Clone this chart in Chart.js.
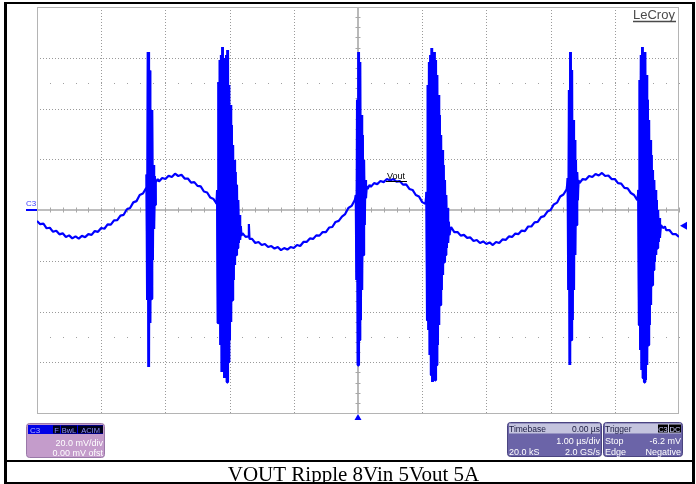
<!DOCTYPE html>
<html>
<head>
<meta charset="utf-8">
<script src="https://cdn.jsdelivr.net/npm/chart.js@4.4.1/dist/chart.umd.min.js"></script>
<style>
  html, body { margin: 0; padding: 0; background: #fff; }
  canvas { display: block; }
</style>
</head>
<body>
<canvas id="scope" width="696" height="484"></canvas>
<script>
// --- LeCroy capture: VOUT ripple 8Vin 5Vout 5A ---
// time in µs (1.00 µs/div), voltage in mV (20.0 mV/div)

const xTicksUs = [-5, -4, -3, -2, -1, 0, 1, 2, 3, 4, 5];
const yTicksMv = [-80, -60, -40, -20, 0, 20, 40, 60, 80];
const dotRowsMv = [50, -50];

// quiet ripple between the switching edges, [t µs, v mV]
const ripple1 = [[-5.00,-4.3],[-4.95,-5.6],[-4.90,-5.4],[-4.85,-7.2],[-4.80,-7.0],[-4.75,-8.6],[-4.70,-8.2],[-4.65,-9.6],[-4.60,-9.2],[-4.55,-10.6],[-4.50,-10.0],[-4.45,-11.2],[-4.40,-10.4],[-4.35,-11.3],[-4.30,-10.2],[-4.25,-10.7],[-4.20,-9.5],[-4.15,-9.8],[-4.10,-8.3],[-4.05,-8.6],[-4.00,-7.1],[-3.95,-7.4],[-3.90,-5.7],[-3.85,-5.8],[-3.80,-4.1],[-3.75,-4.0],[-3.70,-2.2],[-3.65,-1.9],[-3.60,0.3],[-3.55,0.8],[-3.50,3.0],[-3.45,3.5],[-3.40,5.9],[-3.35,6.5],[-3.30,8.6]];
const ripple2 = [[-3.15,11.0],[-3.12,12.2],[-3.10,11.2],[-3.05,12.6],[-3.00,12.2],[-2.95,13.5],[-2.90,13.0],[-2.85,14.3],[-2.80,13.4],[-2.75,13.9],[-2.70,12.4],[-2.65,12.4],[-2.60,10.8],[-2.55,11.0],[-2.50,9.5],[-2.45,9.3],[-2.40,7.3],[-2.35,6.9],[-2.30,4.9],[-2.25,4.3],[-2.21,2.8]];
const ripple3 = [[-1.80,-9.1],[-1.75,-10.6],[-1.71,-10.4],[-1.70,-5.5],[-1.69,-11.4],[-1.65,-11.4],[-1.60,-13.0],[-1.55,-12.6],[-1.50,-13.8],[-1.45,-13.4],[-1.40,-14.6],[-1.35,-14.2],[-1.30,-15.2],[-1.25,-14.6],[-1.20,-15.8],[-1.15,-15.0],[-1.10,-15.6],[-1.05,-14.6],[-1.00,-15.0],[-0.95,-13.8],[-0.90,-14.2],[-0.85,-12.6],[-0.80,-12.6],[-0.75,-11.2],[-0.70,-11.4],[-0.65,-10.0],[-0.60,-10.1],[-0.55,-8.7],[-0.50,-8.7],[-0.45,-6.9],[-0.40,-6.7],[-0.35,-4.7],[-0.30,-4.3],[-0.25,-2.6],[-0.20,-1.6],[-0.15,0.8],[-0.10,1.6],[-0.05,3.9]];
const ripple4 = [[0.15,8.3],[0.18,9.9],[0.20,9.1],[0.25,10.6],[0.30,10.2],[0.35,11.4],[0.40,11.0],[0.45,12.2],[0.50,11.6],[0.55,12.2],[0.60,11.2],[0.65,11.4],[0.70,10.0],[0.75,10.1],[0.80,8.3],[0.85,7.9],[0.90,5.9],[0.95,5.3],[1.00,3.1],[1.05,2.4]];
const ripple5 = [[1.45,-6.7],[1.50,-8.7],[1.55,-8.7],[1.60,-10.1],[1.65,-9.8],[1.70,-11.0],[1.75,-10.8],[1.80,-12.2],[1.85,-11.8],[1.90,-13.0],[1.95,-12.4],[2.00,-13.4],[2.05,-12.8],[2.10,-13.8],[2.15,-12.6],[2.20,-13.0],[2.25,-11.6],[2.30,-11.8],[2.35,-10.4],[2.40,-10.6],[2.45,-9.3],[2.50,-9.5],[2.55,-8.1],[2.60,-8.3],[2.65,-6.5],[2.70,-6.5],[2.75,-4.9],[2.80,-4.7],[2.85,-2.8],[2.90,-2.4],[2.95,-0.6],[3.00,0.0],[3.05,2.2],[3.10,2.9],[3.15,5.3],[3.20,6.1],[3.25,8.1]];
const ripple6 = [[3.45,10.6],[3.50,12.2],[3.55,12.0],[3.60,13.4],[3.65,13.0],[3.70,14.2],[3.75,13.6],[3.80,14.6],[3.85,13.4],[3.90,13.6],[3.95,12.2],[4.00,12.2],[4.05,10.6],[4.10,10.4],[4.15,8.7],[4.20,8.5],[4.25,6.7],[4.30,5.9],[4.35,3.9]];
const ripple7 = [[4.72,-5.9],[4.75,-7.1],[4.78,-6.5],[4.80,-7.9],[4.85,-7.9],[4.90,-9.5],[4.95,-9.5],[5.00,-10.6]];

// ringing bursts at each switching edge
const burst1 = [[-3.29,14.0],[-3.28,-35.5],[-3.27,62.3],[-3.26,-61.9],[-3.25,55.0],[-3.24,-44.5],[-3.23,39.0],[-3.22,-35.0],[-3.21,39.4],[-3.20,-19.7],[-3.19,17.7],[-3.18,-7.5],[-3.17,13.4],[-3.16,2.0]];
const burst2 = [[-2.20,2.4],[-2.19,7.9],[-2.18,-44.5],[-2.17,50.4],[-2.16,-37.4],[-2.15,59.1],[-2.14,-53.2],[-2.13,61.1],[-2.12,-63.8],[-2.11,64.2],[-2.10,-59.1],[-2.09,59.9],[-2.08,-66.2],[-2.07,58.3],[-2.06,-63.1],[-2.05,61.1],[-2.04,-67.8],[-2.03,63.1],[-2.02,-59.9],[-2.01,49.3],[-2.00,-51.2],[-1.99,41.4],[-1.98,-44.1],[-1.97,33.5],[-1.96,-35.5],[-1.95,25.6],[-1.94,-27.6],[-1.93,19.7],[-1.92,-21.7],[-1.91,15.0],[-1.90,-17.7],[-1.89,9.9],[-1.88,-15.0],[-1.87,3.9],[-1.86,-13.0],[-1.85,-2.0],[-1.84,-11.8],[-1.83,-6.3],[-1.82,-10.2]];
const burst3 = [[-0.03,5.9],[-0.02,-27.6],[-0.01,43.4],[0.00,-61.1],[0.01,62.3],[0.02,-51.2],[0.03,58.3],[0.04,-43.4],[0.05,37.4],[0.06,-31.5],[0.07,29.6],[0.08,-17.7],[0.09,19.7],[0.10,-5.9],[0.11,11.8],[0.12,4.7],[0.13,9.5]];
const burst4 = [[1.07,7.1],[1.08,-43.4],[1.09,49.3],[1.10,-47.3],[1.11,58.3],[1.12,-57.1],[1.13,61.1],[1.14,-65.0],[1.15,63.8],[1.16,-67.8],[1.17,59.9],[1.18,-65.0],[1.19,62.3],[1.20,-67.0],[1.21,59.1],[1.22,-61.1],[1.23,53.2],[1.24,-53.2],[1.25,45.3],[1.26,-45.3],[1.27,37.4],[1.28,-37.4],[1.29,29.6],[1.30,-31.5],[1.31,23.6],[1.32,-25.6],[1.33,17.7],[1.34,-20.5],[1.35,11.8],[1.36,-17.7],[1.37,5.9],[1.38,-15.0],[1.39,0.8],[1.40,-13.0],[1.41,-4.7],[1.42,-9.9]];
const burst5 = [[3.27,12.6],[3.28,-31.5],[3.29,47.3],[3.30,-61.1],[3.31,62.3],[3.32,-51.2],[3.33,55.2],[3.34,-43.4],[3.35,35.5],[3.36,-31.5],[3.37,27.6],[3.38,-17.7],[3.39,19.7],[3.40,-5.9],[3.41,15.0],[3.42,3.9],[3.43,11.8]];
const burst6 = [[4.37,7.9],[4.38,-45.3],[4.39,51.2],[4.40,-55.2],[4.41,61.1],[4.42,-63.1],[4.43,64.2],[4.44,-66.2],[4.45,59.1],[4.46,-67.8],[4.47,62.3],[4.48,-67.0],[4.49,53.2],[4.50,-61.1],[4.51,43.4],[4.52,-53.2],[4.53,35.5],[4.54,-45.3],[4.55,27.6],[4.56,-37.4],[4.57,21.7],[4.58,-29.6],[4.59,15.8],[4.60,-23.6],[4.61,11.8],[4.62,-20.5],[4.63,7.9],[4.64,-17.7],[4.65,3.9],[4.66,-15.0],[4.67,0.0],[4.68,-12.6],[4.69,-3.2],[4.70,-11.0]];

const trace = [ripple1, burst1, ripple2, burst2, ripple3, burst3, ripple4,
               burst4, ripple5, burst5, ripple6, burst6, ripple7]
  .flat().map(([t, v]) => ({ x: t, y: v }));
// the bursts again, on their own, heavier so the ringing reads as a solid smear
const bursts = [burst1, burst2, burst3, burst4, burst5, burst6]
  .flatMap(b => [...b.map(([t, v]) => ({ x: t, y: v })), { x: b[b.length - 1][0] + 0.001, y: null }]);

const BLUE = "#0000ff";
const SANS = "'Liberation Sans', Arial, sans-serif";

function box(c, x, y, w, h, fill, stroke) {
  c.beginPath();
  c.roundRect(x, y, w, h, 3);
  c.fillStyle = fill;
  c.fill();
  if (stroke) { c.strokeStyle = stroke; c.lineWidth = 1; c.stroke(); }
}
function txt(c, s, x, y, align, color, font) {
  c.font = font;
  c.fillStyle = color;
  c.textAlign = align;
  c.textBaseline = "alphabetic";
  c.fillText(s, x, y);
}
function seg(c, x1, y1, x2, y2) {
  c.beginPath(); c.moveTo(x1, y1); c.lineTo(x2, y2); c.stroke();
}

// scope graticule + screen annotations
const scopeScreen = {
  id: "scopeScreen",
  beforeDraw(chart) {
    const c = chart.ctx;
    c.save();
    c.fillStyle = "#fff";
    c.fillRect(0, 0, chart.width, chart.height);
    c.restore();
  },
  beforeDatasetsDraw(chart) {
    const { ctx: c, chartArea: a, scales: { x, y } } = chart;
    c.save();
    // dashed divisions
    c.strokeStyle = "#9a9a9a";
    c.lineWidth = 1;
    c.setLineDash([1, 2]);
    xTicksUs.forEach(t => {
      if (t === 0 || Math.abs(t) === 5) return;
      const px = Math.round(x.getPixelForValue(t)) + 0.5;
      seg(c, px, a.top, px, a.bottom);
    });
    yTicksMv.forEach(v => {
      if (v === 0 || Math.abs(v) === 80) return;
      const py = Math.round(y.getPixelForValue(v)) + 0.5;
      seg(c, a.left, py, a.right, py);
    });
    c.setLineDash([]);
    // dotted rows
    c.fillStyle = "#a0a0a0";
    dotRowsMv.forEach(v => {
      const py = Math.round(y.getPixelForValue(v));
      for (let t = -5; t <= 5.001; t += 0.2) {
        c.fillRect(Math.round(x.getPixelForValue(t)), py, 1, 1);
      }
    });
    // center cross with minor ticks
    const cx = x.getPixelForValue(0), cy = y.getPixelForValue(0);
    c.strokeStyle = "#a8a8a8";
    c.lineWidth = 1.6;
    seg(c, a.left, cy, a.right, cy);
    seg(c, cx, a.top, cx, a.bottom);
    c.lineWidth = 1;
    for (let t = -5; t <= 5.001; t += 0.2) {
      const px = Math.round(x.getPixelForValue(t)) + 0.5;
      seg(c, px, cy - 2.5, px, cy + 2.5);
    }
    for (let v = -80; v <= 80.001; v += 4) {
      const py = Math.round(y.getPixelForValue(v)) + 0.5;
      seg(c, cx - 2.5, py, cx + 2.5, py);
    }
    // outer graticule
    c.strokeStyle = "#b4b4b4";
    c.strokeRect(a.left + 0.5, a.top + 0.5, a.right - a.left - 1, a.bottom - a.top);
    c.restore();
  },
  afterDraw(chart) {
    const { ctx: c, chartArea: a, scales: { x, y } } = chart;
    c.save();
    const cx = x.getPixelForValue(0), cy = y.getPixelForValue(0);

    // channel marker "C3" on the left edge
    txt(c, "C3", 26, 206, "left", "#3a3aff", "8px " + SANS);
    c.fillStyle = BLUE;
    c.fillRect(26, cy - 1, a.left - 26, 2);

    // trigger level marker (right) and trigger position (bottom)
    const ty = y.getPixelForValue(-6.2);
    c.beginPath();
    c.moveTo(a.right + 1, ty); c.lineTo(a.right + 8, ty - 4); c.lineTo(a.right + 8, ty + 4);
    c.closePath(); c.fill();
    c.beginPath();
    c.moveTo(cx, a.bottom + 1); c.lineTo(cx - 3.5, a.bottom + 7); c.lineTo(cx + 3.5, a.bottom + 7);
    c.closePath(); c.fill();

    // trace label
    txt(c, "Vout", 387, 179, "left", "#000", "9px " + SANS);
    c.strokeStyle = "#000"; c.lineWidth = 1;
    seg(c, 386, 181.5, 407, 181.5);

    // LeCroy logo
    txt(c, "LeCroy", 633, 19, "left", "#4a4a4a", "13px " + SANS);
    c.strokeStyle = "#4a4a4a"; c.lineWidth = 1.5;
    seg(c, 633, 21.5, 676, 21.5);

    // C3 channel descriptor
    box(c, 26.5, 423.5, 78, 34, "#c49ccb", "#9a78a8");
    c.fillStyle = "#0000e6";
    c.fillRect(28, 425, 75, 9);
    txt(c, "C3", 30, 432.5, "left", "#b4b4ff", "8px " + SANS);
    [["F", 53, 7], ["BwL", 61, 16], ["ACIM", 78, 25]].forEach(([s, bx, bw]) => {
      c.fillStyle = "#00001c";
      c.fillRect(bx, 425.5, bw, 8);
      txt(c, s, bx + bw / 2, 432.5, "center", "#8c8cff", "7.5px " + SANS);
    });
    txt(c, "20.0 mV/div", 103, 446, "right", "#fff", "9px " + SANS);
    txt(c, "0.00 mV ofst", 103, 455.5, "right", "#fff", "9px " + SANS);

    // Timebase descriptor
    box(c, 507.5, 422.5, 94, 34, "#6b64a8", "#4a4480");
    c.fillStyle = "#c4c4de";
    c.fillRect(509, 423.5, 91, 10);
    txt(c, "Timebase", 509, 431.5, "left", "#1a1a40", "8.5px " + SANS);
    txt(c, "0.00 µs", 600, 431.5, "right", "#1a1a40", "8.5px " + SANS);
    txt(c, "1.00 µs/div", 600, 443.5, "right", "#fff", "9px " + SANS);
    txt(c, "20.0 kS", 509, 454.5, "left", "#fff", "9px " + SANS);
    txt(c, "2.0 GS/s", 600, 454.5, "right", "#fff", "9px " + SANS);

    // Trigger descriptor
    box(c, 603.5, 422.5, 79, 34, "#6b64a8", "#4a4480");
    c.fillStyle = "#c4c4de";
    c.fillRect(605, 423.5, 76, 10);
    txt(c, "Trigger", 605, 431.5, "left", "#1a1a40", "8.5px " + SANS);
    [["C3", 658, 10], ["DC", 669, 12]].forEach(([s, bx, bw]) => {
      c.fillStyle = "#000";
      c.fillRect(bx, 424.5, bw, 8);
      txt(c, s, bx + bw / 2, 431.5, "center", "#d0d0ff", "7.5px " + SANS);
    });
    txt(c, "Stop", 605, 443.5, "left", "#fff", "9px " + SANS);
    txt(c, "-6.2 mV", 681, 443.5, "right", "#fff", "9px " + SANS);
    txt(c, "Edge", 605, 454.5, "left", "#fff", "9px " + SANS);
    txt(c, "Negative", 681, 454.5, "right", "#fff", "9px " + SANS);

    // page frame + caption
    c.fillStyle = "#000";
    c.fillRect(4, 2, 3, 482);
    c.fillRect(692, 2, 3, 482);
    c.fillRect(4, 2, 691, 2);
    c.fillRect(4, 460, 691, 2);
    c.fillRect(4, 482, 691, 2);
    txt(c, "VOUT Ripple 8Vin 5Vout 5A", 353.5, 481, "center", "#000", "21px 'Liberation Serif', 'Times New Roman', serif");
    c.restore();
  }
};

const ctx = document.getElementById("scope").getContext("2d");
new Chart(ctx, {
  type: "line",
  data: {
    datasets: [{
      label: "Vout",
      data: trace,
      borderColor: BLUE,
      borderWidth: 2.2,
      borderJoinStyle: "bevel",
      pointRadius: 0,
      tension: 0,
    }, {
      label: "Vout bursts",
      data: bursts,
      borderColor: BLUE,
      borderWidth: 2.8,
      borderJoinStyle: "bevel",
      pointRadius: 0,
      tension: 0,
      spanGaps: false,
    }]
  },
  options: {
    responsive: false,
    animation: false,
    parsing: false,
    layout: { padding: { left: 37, right: 17, top: 7, bottom: 71 } },
    plugins: { legend: { display: false }, tooltip: { enabled: false } },
    scales: {
      x: { type: "linear", min: -5, max: 5, display: false },
      y: { type: "linear", min: -80, max: 80, display: false },
    },
  },
  plugins: [scopeScreen],
});
</script>
</body>
</html>
